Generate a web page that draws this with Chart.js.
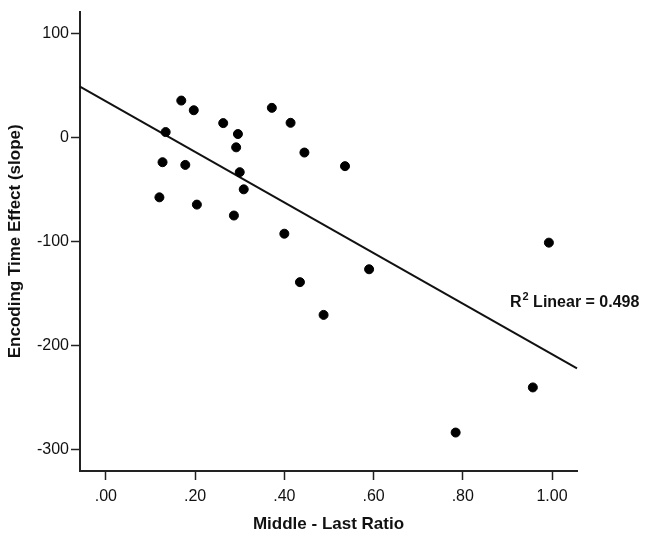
<!DOCTYPE html>
<html>
<head>
<meta charset="utf-8">
<script src="https://cdn.jsdelivr.net/npm/chart.js@4/dist/chart.umd.min.js"></script>
<style>
  html, body { margin: 0; padding: 0; background: #fff; }
  #wrap { width: 651px; height: 539px; }
</style>
</head>
<body>
<div id="wrap"><canvas id="scatter-chart" width="651" height="539"></canvas></div>
<script>
// data
let ratioValues = [0.169, 0.197, 0.134, 0.127, 0.178, 0.120, 0.204, 0.263, 0.296, 0.292, 0.300, 0.309,
                   0.287, 0.372, 0.414, 0.445, 0.400, 0.536, 0.993, 0.590, 0.435, 0.488, 0.957, 0.784];
let slopeValues = [35.4, 26.1, 5.1, -23.9, -26.5, -57.7, -64.7, 13.7, 3.2, -9.6, -33.5, -50.0,
                   -75.2, 28.4, 14.0, -14.6, -92.7, -27.7, -101.3, -126.9, -139.3, -170.8, -240.6, -284.0];
let fitX = [-0.058, 1.056];
let fitY = [48.8, -222.2];
let xTicks = [0, 0.2, 0.4, 0.6, 0.8, 1.0];
let yTicks = [-300, -200, -100, 0, 100];
let fitLabel = "0.498";

let points = ratioValues.map((v, i) => ({ x: v, y: slopeValues[i] }));
let fitPoints = fitX.map((v, i) => ({ x: v, y: fitY[i] }));

// R² label drawn next to the line
const r2Label = {
    id: "r2Label",
    afterDraw(chart) {
        let ctx = chart.ctx;
        ctx.save();
        ctx.fillStyle = "#111";
        ctx.textBaseline = "middle";
        let x = 510, y = 303;
        ctx.font = "bold 16px 'Liberation Sans', Arial, sans-serif";
        ctx.fillText("R", x, y);
        x += ctx.measureText("R").width;
        ctx.font = "bold 11px 'Liberation Sans', Arial, sans-serif";
        ctx.fillText("2", x + 1, y - 6);
        x += ctx.measureText("2").width + 1;
        ctx.font = "bold 16px 'Liberation Sans', Arial, sans-serif";
        ctx.fillText(" Linear = " + fitLabel, x, y);
        ctx.restore();
    }
};

let scatterChart = new Chart("scatter-chart", {
    type: "scatter",
    data: {
        datasets: [{
            data: points,
            backgroundColor: "#000",
            borderColor: "#000",
            pointRadius: 4.5,
            pointHoverRadius: 4.5
        }, {
            type: "line",
            data: fitPoints,
            borderColor: "#111",
            borderWidth: 2,
            pointRadius: 0,
            fill: false,
            clip: false
        }]
    },
    options: {
        responsive: false,
        animation: false,
        layout: { padding: { top: 8, right: 74, left: 0, bottom: 0 } },
        plugins: { legend: { display: false }, tooltip: { enabled: false } },
        scales: {
            x: {
                type: "linear",
                min: -0.058,
                max: 1.056,
                afterBuildTicks: scale => { scale.ticks = xTicks.map(v => ({ value: v })); },
                afterFit: scale => { scale.height = 68; },
                ticks: {
                    color: "#111",
                    padding: 7,
                    font: { family: "'Liberation Sans', Arial, sans-serif", size: 16 },
                    callback: v => v == 1 ? "1.00" : "." + Math.round(v * 100).toString().padStart(2, "0")
                },
                grid: { drawOnChartArea: false, drawTicks: true, tickLength: 9, tickColor: "#222", tickWidth: 1.5 },
                border: { color: "#222", width: 2 },
                title: {
                    display: true,
                    text: "Middle - Last Ratio",
                    color: "#111",
                    padding: { top: 0, bottom: 4 },
                    font: { family: "'Liberation Sans', Arial, sans-serif", size: 17, weight: "bold" }
                }
            },
            y: {
                type: "linear",
                min: -321,
                max: 121,
                afterBuildTicks: scale => { scale.ticks = yTicks.map(v => ({ value: v })); },
                afterFit: scale => { scale.width = 80; },
                ticks: {
                    color: "#111",
                    padding: 2,
                    font: { family: "'Liberation Sans', Arial, sans-serif", size: 16 }
                },
                grid: { drawOnChartArea: false, drawTicks: true, tickLength: 9, tickColor: "#222", tickWidth: 1.5 },
                border: { color: "#222", width: 2 },
                title: {
                    display: true,
                    text: "Encoding Time Effect (slope)",
                    color: "#111",
                    padding: { top: 5, bottom: 0 },
                    font: { family: "'Liberation Sans', Arial, sans-serif", size: 17, weight: "bold" }
                }
            }
        }
    },
    plugins: [r2Label]
});
</script>
</body>
</html>
